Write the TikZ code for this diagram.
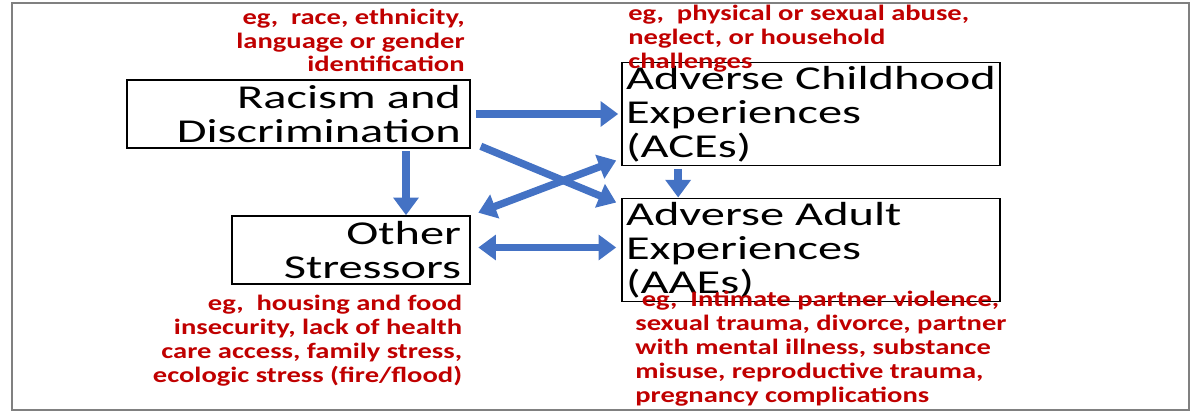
\documentclass[tikz,border=0pt]{standalone}
\usepackage{fontspec}
\setmainfont{Carlito}
\newfontfamily\boxfont[FakeStretch=1.45]{Carlito}
\newfontfamily\notefont[FakeStretch=1.3]{Carlito}
\usetikzlibrary{positioning,calc,arrows.meta}
\definecolor{arrowblue}{HTML}{4472C4}
\definecolor{notered}{HTML}{C00000}
\tikzset{
	box/.style={draw, line width=0.9pt, minimum width=6.86cm, minimum height=1.36cm, font=\boxfont\fontsize{19}{19.5}\selectfont, inner sep=2pt},
	note/.style={text=notered, font=\notefont\bfseries\fontsize{12.5}{13.6}\selectfont, inner sep=0pt},
	link/.style={draw=arrowblue, line width=4.2pt, -{Triangle[length=10pt,width=14pt]}},
	both/.style={link, {Triangle[length=10pt,width=14pt]}-{Triangle[length=10pt,width=14pt]}}
}

\begin{document}
\begin{tikzpicture}
	\useasboundingbox (0,0) rectangle (24,-8.32);
	\draw[gray, line width=0.6pt] (0.24,-0.06) rectangle (23.78,-8.2);

	% boxes
	\node[box, text width=6.5cm, align=right] (rac) at (5.97,-2.28) {Racism and\\Discrimination};
	\node[box, minimum width=7.56cm, text width=7.4cm, align=left] (ace) at (16.22,-2.28) {Adverse Childhood\\Experiences (ACEs)};
	\node[box, minimum width=4.76cm, text width=4.4cm, align=right] (oth) at (7.02,-5.0) {Other\\Stressors};
	\node[box, minimum width=7.56cm, text width=7.4cm, align=left] (aae) at (16.22,-5.0) {Adverse Adult\\Experiences (AAEs)};

	% examples
	\node[note, align=right, anchor=south east] (racnote) at (9.3,-1.45) {eg,\ \ race, ethnicity,\\language or gender\\identification};
	\node[note, align=left, anchor=south west] (acenote) at (12.56,-1.45) {eg,\ \ physical or sexual abuse,\\neglect, or household\\challenges};
	\node[note, align=right, anchor=north east] (othnote) at (9.25,-5.9) {eg,\ \ housing and food\\insecurity, lack of health\\care access, family stress,\\ecologic stress (fire/flood)};
	\node[note, align=left, anchor=north west] (aaenote) at (12.7,-5.82) {\ eg,\ \ Intimate partner violence,\\sexual trauma, divorce, partner\\with mental illness, substance\\misuse, reproductive trauma,\\pregnancy complications};

	% arrows
	\coordinate (a1) at ($(rac.east)+(0.1,0)$);
	\draw[link] (a1) -- ($(ace.west |- a1)+(-0.06,0)$);
	\draw[link] ($(rac.south)+(2.15,-0.05)$) coordinate (a2) -- (a2 |- oth.north);
	\draw[link] ($(ace.south west)!0.15!(ace.south east)+(0,-0.05)$) coordinate (a3) -- (a3 |- aae.north);
	\draw[link] ($(rac.south east)+(0.2,0.05)$) -- ($(aae.north west)+(-0.1,-0.1)$);
	\draw[both] ($(oth.north east)+(0.15,0.05)$) -- ($(ace.south west)+(-0.1,0.12)$);
	\draw[both] ($(oth.east)+(0.15,0.05)$) -- ($(aae.west)+(-0.1,0.05)$);
\end{tikzpicture}
\end{document}
